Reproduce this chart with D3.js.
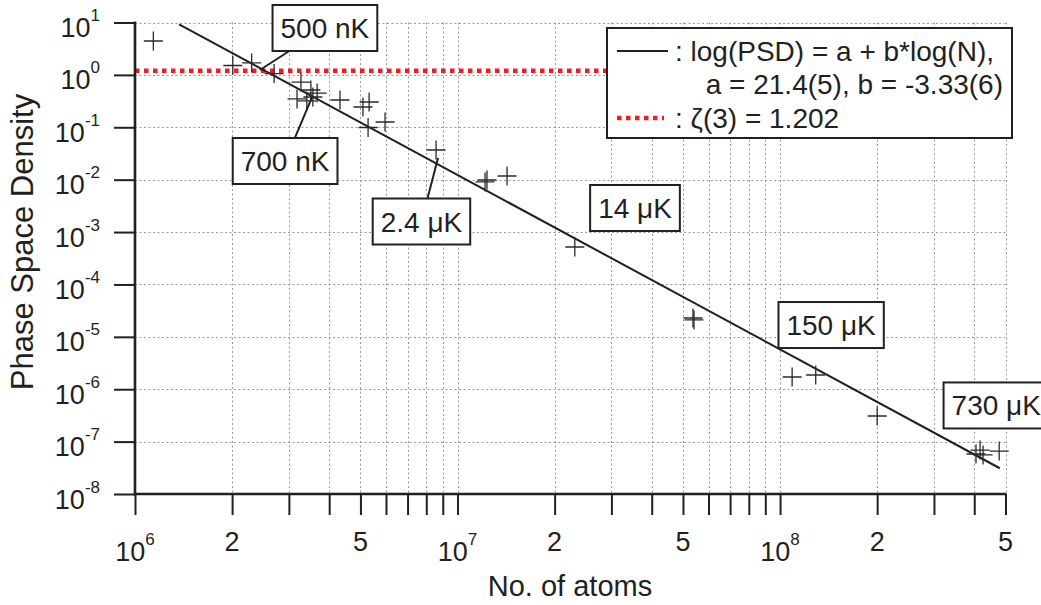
<!DOCTYPE html>
<html>
<head>
<meta charset="utf-8">
<script src="https://cdn.jsdelivr.net/npm/d3@7"></script>
<style>
  html, body { margin: 0; padding: 0; background: #fff; }
  svg { display: block; font-family: "Liberation Sans", Arial, Helvetica, sans-serif; }
</style>
</head>
<body>
<svg id="chart" width="1041" height="605"></svg>
<script>
// Measured samples: number of atoms and phase space density
const atomNumbers = [1.14e6, 2.01e6, 2.30e6, 2.70e6, 3.27e6, 3.51e6, 3.67e6, 3.18e6, 3.41e6, 3.56e6,
  4.32e6, 5.09e6, 5.32e6, 5.28e6, 5.96e6, 8.58e6, 1.217e7, 1.234e7, 1.424e7, 2.31e7,
  5.37e7, 5.41e7, 1.09e8, 1.29e8, 2.0e8, 4.05e8, 4.17e8, 4.26e8, 4.78e8];
const psdValues = [4.43, 1.51, 1.69, 1.06, 0.73, 0.515, 0.45, 0.347, 0.318, 0.378,
  0.332, 0.244, 0.304, 0.099, 0.126, 0.0368, 0.00904, 0.00986, 0.01175, 5.19e-4,
  2.29e-5, 2.10e-5, 1.71e-6, 1.87e-6, 3.08e-7, 5.8e-8, 6.9e-8, 5.56e-8, 6.6e-8];

// Power-law fit log(PSD) = a + b*log(N)
const fitA = 21.4, fitAErr = "5";
const fitB = -3.33, fitBErr = "6";
const fitRange = [1.37e6, 4.8e8];

// BEC threshold
const zeta3 = 1.202;

// Axis ticks
const xDecadeExps = [6, 7, 8];
const xMinorTicks = [2e6, 3e6, 4e6, 5e6, 6e6, 7e6, 8e6, 9e6, 2e7, 3e7, 4e7, 5e7, 6e7, 7e7, 8e7, 9e7, 2e8, 3e8, 4e8, 5e8];
const xMinorLabelled = [2e6, 5e6, 2e7, 5e7, 2e8, 5e8];
const yDecadeExps = [-8, -7, -6, -5, -4, -3, -2, -1, 0, 1];

// Temperature annotations: label, box centre (N, PSD), pointer target (N, PSD) or null
const tempLabels = ["500 nK", "700 nK", "2.4 \u03bcK", "14 \u03bcK", "150 \u03bcK", "730 \u03bcK"];
const tempBoxN   = [3.88e6, 2.92e6, 7.73e6, 3.55e7, 1.44e8, 4.68e8];
const tempBoxPsd = [7.85, 0.0227, 1.59e-3, 2.88e-3, 1.68e-5, 4.9e-7];
const tempPtrN   = [2.44e6, 3.54e6, 8.70e6, null, null, null];
const tempPtrPsd = [1.24, 0.378, 0.0259, null, null, null];

const ink = "#231f20";
const svg = d3.select("#chart");

const x = d3.scaleLog().domain([1e6, 5e8]).range([135, 1005.5]);
const y = d3.scaleLog().domain([1e-8, 1e1]).range([494, 22.5]);

// grid
const grid = svg.append("g").attr("stroke", "#9a9a9a").attr("stroke-width", 1)
  .attr("stroke-dasharray", "2,2.5").attr("fill", "none");
const xGridVals = xDecadeExps.map(e => Math.pow(10, e)).concat(xMinorTicks);
grid.selectAll("line.vx").data(xGridVals).join("line")
  .attr("x1", d => Math.round(x(d)) + 0.5).attr("x2", d => Math.round(x(d)) + 0.5)
  .attr("y1", y(1e1)).attr("y2", y(1e-8));
grid.selectAll("line.hy").data(yDecadeExps).join("line")
  .attr("x1", x(1e6)).attr("x2", x(5e8))
  .attr("y1", d => Math.round(y(Math.pow(10, d))) + 0.5).attr("y2", d => Math.round(y(Math.pow(10, d))) + 0.5);

// zeta(3) threshold line
svg.append("line")
  .attr("x1", x(1e6)).attr("x2", x(5e8))
  .attr("y1", y(zeta3)).attr("y2", y(zeta3))
  .attr("stroke", "#ee1c25").attr("stroke-width", 4.5).attr("stroke-dasharray", "4.5,4.5");

// fit line
const fitPts = fitRange.map(n => [n, Math.pow(10, fitA + fitB * Math.log10(n))]);
svg.append("path")
  .attr("d", d3.line().x(d => x(d[0])).y(d => y(d[1]))(fitPts))
  .attr("stroke", ink).attr("stroke-width", 2).attr("fill", "none");

// data crosses
const arm = 9.5;
svg.append("g").selectAll("path").data(atomNumbers.map((n, i) => [n, psdValues[i]])).join("path")
  .attr("d", d => {
    const cx = x(d[0]), cy = y(d[1]);
    return `M${cx - arm},${cy}H${cx + arm}M${cx},${cy - arm}V${cy + arm}`;
  })
  .attr("stroke", "#2a2a2a").attr("stroke-width", 1.3).attr("fill", "none");

// annotations
const ann = svg.append("g");
tempLabels.forEach((lab, i) => {
  const cx = x(tempBoxN[i]), cy = y(tempBoxPsd[i]);
  if (tempPtrN[i] !== null) {
    ann.append("line")
      .attr("x1", cx).attr("y1", cy)
      .attr("x2", x(tempPtrN[i])).attr("y2", y(tempPtrPsd[i]))
      .attr("stroke", ink).attr("stroke-width", 2);
  }
  const g = ann.append("g");
  const rect = g.append("rect").attr("fill", "#fff").attr("stroke", ink).attr("stroke-width", 2);
  const t = g.append("text").attr("x", cx).attr("y", cy + 10).attr("text-anchor", "middle")
    .attr("font-size", 28).attr("fill", ink).text(lab);
  const w = t.node().getComputedTextLength() + 16;
  rect.attr("x", cx - w / 2).attr("y", cy - 23).attr("width", w).attr("height", 46);
});

// axes
const xAxis = svg.append("g").attr("transform", `translate(0,${y(1e-8)})`)
  .call(d3.axisBottom(x).tickValues(xGridVals).tickFormat("").tickSize(21).tickSizeOuter(0));
const yAxis = svg.append("g").attr("transform", `translate(${x(1e6)},0)`)
  .call(d3.axisLeft(y).tickValues(yDecadeExps.map(e => Math.pow(10, e))).tickFormat("").tickSize(21).tickSizeOuter(0));
[xAxis, yAxis].forEach(a => {
  a.select(".domain").attr("stroke", ink).attr("stroke-width", 2.6);
  a.selectAll(".tick line").attr("stroke", ink).attr("stroke-width", 2);
});
// extend domain lines to cover the corner
xAxis.select(".domain").attr("d", `M${x(1e6) - 1.3},0H${x(5e8) + 1}`);
yAxis.select(".domain").attr("d", `M0,${y(1e-8) + 1.3}V${y(1e1) - 1}`);

// y tick labels
const yl = svg.append("g").attr("fill", ink);
yDecadeExps.forEach(e => {
  const t = yl.append("text").attr("x", 100).attr("y", y(Math.pow(10, e)) + 14.5).attr("text-anchor", "end");
  t.append("tspan").attr("font-size", 27).text("10");
  t.append("tspan").attr("font-size", 17).attr("dy", -16).text(e);
});

// x tick labels
const xl = svg.append("g").attr("fill", ink);
xDecadeExps.forEach(e => {
  const t = xl.append("text").attr("x", x(Math.pow(10, e))).attr("y", 561).attr("text-anchor", "middle");
  t.append("tspan").attr("font-size", 27).text("10");
  t.append("tspan").attr("font-size", 17).attr("dy", -16).text(e);
});
xMinorLabelled.forEach(v => {
  const m = Math.round(v / Math.pow(10, Math.floor(Math.log10(v))));
  xl.append("text").attr("x", x(v)).attr("y", 551).attr("text-anchor", "middle")
    .attr("font-size", 27).text(m);
});

// axis titles
svg.append("text").attr("x", 570).attr("y", 596).attr("text-anchor", "middle")
  .attr("font-size", 29).attr("fill", ink).text("No. of atoms");
svg.append("text").attr("transform", "translate(33,242) rotate(-90)").attr("text-anchor", "middle")
  .attr("font-size", 31).attr("fill", ink).text("Phase Space Density");

// legend
const lg = svg.append("g");
lg.append("rect").attr("x", 607).attr("y", 28).attr("width", 405).attr("height", 110)
  .attr("fill", "#fff").attr("stroke", ink).attr("stroke-width", 2);
lg.append("line").attr("x1", 617).attr("x2", 668).attr("y1", 51).attr("y2", 51)
  .attr("stroke", ink).attr("stroke-width", 2);
lg.append("text").attr("x", 675).attr("y", 61).attr("font-size", 28).attr("fill", ink)
  .text(": log(PSD) = a + b*log(N),");
lg.append("text").attr("x", 1003).attr("y", 94).attr("text-anchor", "end").attr("font-size", 28).attr("fill", ink)
  .text(`a = ${fitA}(${fitAErr}), b = ${fitB}(${fitBErr})`);
lg.append("line").attr("x1", 617).attr("x2", 664).attr("y1", 118).attr("y2", 118)
  .attr("stroke", "#ee1c25").attr("stroke-width", 4.5).attr("stroke-dasharray", "4.5,4.5");
lg.append("text").attr("x", 675).attr("y", 128).attr("font-size", 28).attr("fill", ink)
  .text(`: \u03b6(3) = ${zeta3}`);
</script>
</body>
</html>
